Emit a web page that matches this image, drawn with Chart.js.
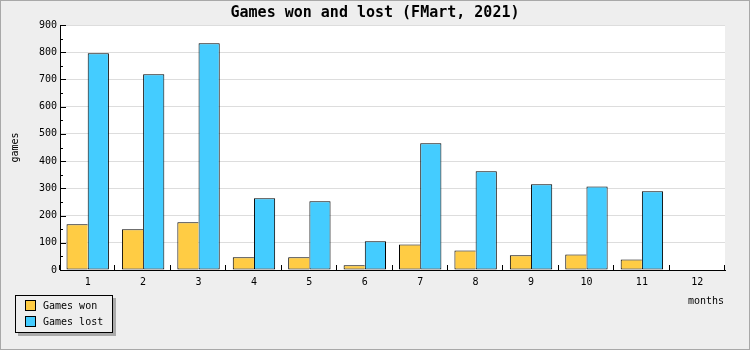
<!DOCTYPE html>
<html>
<head>
<meta charset="utf-8">
<script src="https://cdn.jsdelivr.net/npm/chart.js@4"></script>
<style>
  html, body { margin: 0; padding: 0; background: #eeeeee; }
  #wrap { width: 750px; height: 350px; }
</style>
</head>
<body>
<div id="wrap"><canvas id="gamesChart" width="750" height="350"></canvas></div>
<script>
// data
var months = ['1', '2', '3', '4', '5', '6', '7', '8', '9', '10', '11', '12'];
var gamesWon = [168, 150, 175, 47, 47, 17, 94, 72, 54, 57, 39, 0];
var gamesLost = [796, 719, 833, 264, 253, 106, 466, 363, 315, 307, 289, 0];
var yTicks = [0, 100, 200, 300, 400, 500, 600, 700, 800, 900];

var FONT = '"DejaVu Sans Mono", monospace';
var wonColor = '#ffcc44';
var lostColor = '#44ccff';

// background, frame, ticks, titles and legend
var decor = {
    id: 'decor',
    beforeDraw: function(chart) {
        var c = chart.ctx, a = chart.chartArea;
        c.save();
        c.fillStyle = '#eeeeee';
        c.fillRect(0, 0, chart.width, chart.height);
        c.fillStyle = '#ffffff';
        c.fillRect(a.left, a.top, a.right - a.left, a.bottom - a.top);
        c.strokeStyle = '#a8a8a8';
        c.lineWidth = 1;
        c.strokeRect(0.5, 0.5, chart.width - 1, chart.height - 1);
        c.restore();
    },
    afterDraw: function(chart) {
        var c = chart.ctx, a = chart.chartArea;
        var y = chart.scales.y, x = chart.scales.x;
        c.save();
        c.strokeStyle = '#000';
        c.lineWidth = 1;
        c.beginPath();
        // y ticks: major every 100, minor at 50
        for (var v = 0; v <= 900; v += 50) {
            var py = Math.round(y.getPixelForValue(v)) + 0.5;
            var len = (v % 100 === 0) ? 6 : 3;
            c.moveTo(a.left, py);
            c.lineTo(a.left + len, py);
        }
        // x ticks at category boundaries
        var n = months.length;
        for (var i = 0; i <= n; i++) {
            var px = Math.round(x.left + i * (x.right - x.left) / n) - 0.5;
            c.moveTo(px, a.bottom);
            c.lineTo(px, a.bottom - 5);
        }
        c.stroke();

        // title
        c.fillStyle = '#000';
        c.font = 'bold 15px ' + FONT;
        c.textAlign = 'center';
        c.textBaseline = 'middle';
        c.fillText('Games won and lost (FMart, 2021)', 375, 13);

        // axis titles
        c.font = '10px ' + FONT;
        c.textAlign = 'right';
        c.fillText('months', 724, 301);
        c.save();
        c.translate(15, (a.top + a.bottom) / 2);
        c.rotate(-Math.PI / 2);
        c.textAlign = 'center';
        c.fillText('games', 0, 0);
        c.restore();

        // legend
        c.fillStyle = '#aaaaaa';
        c.fillRect(18, 298, 98, 38);
        c.fillStyle = '#eeeeee';
        c.fillRect(15, 295, 98, 38);
        c.strokeRect(15.5, 295.5, 97, 37);
        var items = [['Games won', wonColor], ['Games lost', lostColor]];
        items.forEach(function(it, k) {
            var ty = 300 + k * 16;
            c.fillStyle = it[1];
            c.fillRect(25, ty, 10, 10);
            c.strokeRect(25.5, ty + 0.5, 10, 10);
            c.fillStyle = '#000';
            c.textAlign = 'left';
            c.textBaseline = 'middle';
            c.fillText(it[0], 43, ty + 6);
        });
        c.restore();
    }
};

var ctx = document.getElementById('gamesChart').getContext('2d');
var gamesChart = new Chart(ctx, {
    type: 'bar',
    data: {
        labels: months,
        datasets: [{
            label: 'Games won',
            data: gamesWon,
            backgroundColor: wonColor,
            borderColor: '#000',
            // right edge is shared with the neighbouring lost bar
            borderWidth: { left: 1, top: 1, right: 0, bottom: 1 },
            borderSkipped: false,
            inflateAmount: 0
        }, {
            label: 'Games lost',
            data: gamesLost,
            backgroundColor: lostColor,
            borderColor: '#000',
            borderWidth: 1,
            borderSkipped: false,
            inflateAmount: 0
        }]
    },
    options: {
        responsive: false,
        animation: false,
        events: [],
        layout: {
            padding: { left: 0, right: 25, top: 25, bottom: 0 }
        },
        datasets: {
            bar: { categoryPercentage: 0.765, barPercentage: 1.0 }
        },
        scales: {
            x: {
                grid: { drawOnChartArea: false, drawTicks: false },
                border: { color: '#000', width: 1 },
                ticks: {
                    color: '#000',
                    font: { family: FONT, size: 10 },
                    padding: 6,
                    maxRotation: 0
                },
                afterFit: function(scale) { scale.height = 80; }
            },
            y: {
                min: 0,
                max: 900,
                grid: { color: '#dddddd', drawTicks: false },
                border: { color: '#000', width: 1 },
                afterBuildTicks: function(scale) {
                    scale.ticks = yTicks.map(function(v) { return { value: v }; });
                },
                ticks: {
                    color: '#000',
                    font: { family: FONT, size: 10 },
                    padding: 3
                },
                afterFit: function(scale) { scale.width = 60; }
            }
        },
        plugins: {
            legend: { display: false },
            title: { display: false },
            tooltip: { enabled: false }
        }
    },
    plugins: [decor]
});
</script>
</body>
</html>
